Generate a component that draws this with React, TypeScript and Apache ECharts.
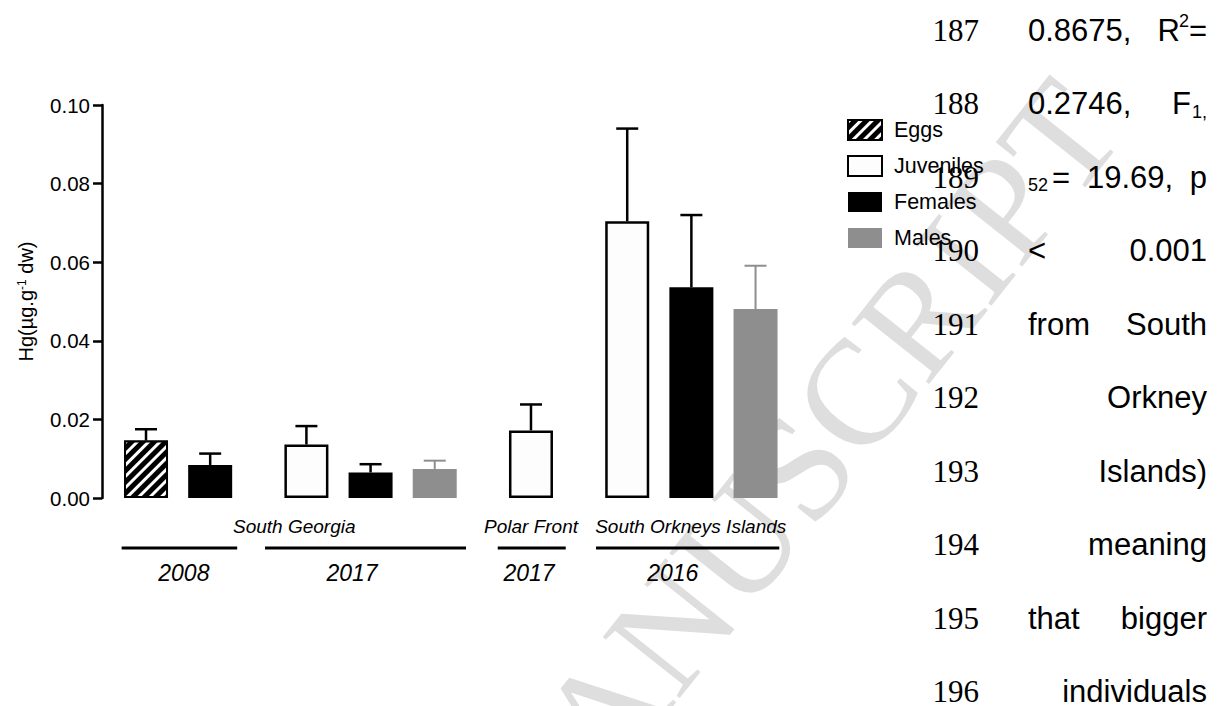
import React, { useEffect, useRef } from "react";
import * as echarts from "echarts";

// ---------- data ----------
const groupNames = ["Eggs", "Juveniles", "Females", "Males"];

const eggsX = [0];
const eggsMean = [0.0146];
const eggsSD = [0.0029];

const juvX = [2.5, 6, 7.5];
const juvMean = [0.0136, 0.0172, 0.0704];
const juvSD = [0.0047, 0.0066, 0.0236];

const femX = [1, 3.5, 8.5];
const femMean = [0.0084, 0.0065, 0.0536];
const femSD = [0.0029, 0.0021, 0.0184];

const maleX = [4.5, 9.5];
const maleMean = [0.0074, 0.0481];
const maleSD = [0.0021, 0.011];

const yTicks = [0, 0.02, 0.04, 0.06, 0.08, 0.1];

const regionLabels = ["South Georgia", "Polar Front", "South Orkneys Islands"];
const regionCenters = [2.31, 6.0, 8.49];

const yearLabels = ["2008", "2017", "2017", "2016"];
const yearStart = [-0.38, 1.855, 5.482, 7.014];
const yearEnd = [1.421, 4.988, 6.542, 9.87];
const yearLabelX = [0.59, 3.21, 5.97, 8.21];

const lineNumbers = ["187", "188", "189", "190", "191", "192", "193", "194", "195", "196"];

const SANS = "'Liberation Sans', Arial, sans-serif";
const SERIF = "'Liberation Serif', 'Times New Roman', serif";

function barSeries(name: string, xs: number[], means: number[], itemStyle: any) {
  return {
    type: "bar",
    name,
    data: xs.map((x, i) => [x, means[i]]),
    barWidth: 44,
    barGap: "-100%",
    itemStyle,
    z: 3,
  };
}

function errSeries(name: string, xs: number[], means: number[], sds: number[], color: string, width: number) {
  return {
    type: "custom",
    name,
    data: xs.map((x, i) => [x, means[i], sds[i]]),
    encode: { x: 0, y: 1 },
    clip: false,
    z: 4,
    renderItem: (params: any, api: any) => {
      const x = api.value(0);
      const m = api.value(1);
      const s = api.value(2);
      const b = api.coord([x, m]);
      const t = api.coord([x, m + s]);
      const st = { stroke: color, lineWidth: width, fill: null };
      return {
        type: "group",
        children: [
          { type: "line", shape: { x1: b[0], y1: b[1], x2: t[0], y2: t[1] }, style: st },
          { type: "line", shape: { x1: t[0] - 11, y1: t[1], x2: t[0] + 11, y2: t[1] }, style: st },
        ],
      };
    },
  };
}

function txt(text: string, x: number, y: number, opts: any = {}) {
  const align = opts.align || "left";
  const size = opts.size || 31;
  const family = opts.family || SANS;
  return {
    type: "text",
    x,
    y,
    z: 10,
    style: {
      text,
      fill: opts.fill || "#000",
      font: `${size}px ${family}`,
      fontSize: size,
      fontFamily: family,
      align,
      textAlign: align,
      verticalAlign: "middle",
      textVerticalAlign: "middle",
    },
  };
}

const lineY = [30, 103.5, 177, 250.5, 324, 397.5, 471, 544.5, 618, 691.5];

export default function App() {
  const ref = useRef<HTMLDivElement>(null);
  useEffect(() => {
    if (!ref.current) return;
    const chart = echarts.init(ref.current, null, { renderer: "svg" });

    const graphics: any[] = [];
    // watermark
    graphics.push({
      type: "text",
      x: 1088,
      y: 102,
      rotation: 0.9,
      z: 0,
      silent: true,
      style: {
        text: "ACCEPTED MANUSCRIPT",
        fill: "#dedede",
        fontSize: 150,
        fontFamily: SERIF,
        font: `150px ${SERIF}`,
        align: "right",
        textAlign: "right",
        verticalAlign: "middle",
        textVerticalAlign: "middle",
      },
    });
    // line numbers
    lineNumbers.forEach((n, i) => {
      graphics.push(txt(n, 979, lineY[i], { align: "right", family: SERIF, size: 31 }));
    });
    // manuscript text
    const L = 1028;
    const R = 1207;
    graphics.push(txt("0.8675,", L, lineY[0]));
    graphics.push(txt("=", R, lineY[0], { align: "right" }));
    graphics.push(txt("2", 1189, lineY[0] - 9, { align: "right", size: 18 }));
    graphics.push(txt("R", 1180, lineY[0], { align: "right" }));
    graphics.push(txt("0.2746,", L, lineY[1]));
    graphics.push(txt("1,", R, lineY[1] + 8, { align: "right", size: 18 }));
    graphics.push(txt("F", 1191, lineY[1], { align: "right" }));
    graphics.push(txt("52", L, lineY[2] + 8, { size: 18 }));
    graphics.push(txt("=", 1052, lineY[2]));
    graphics.push(txt("19.69,", 1087, lineY[2]));
    graphics.push(txt("p", R, lineY[2], { align: "right" }));
    graphics.push(txt("<", L, lineY[3]));
    graphics.push(txt("0.001", R, lineY[3], { align: "right" }));
    graphics.push(txt("from", L, lineY[4]));
    graphics.push(txt("South", R, lineY[4], { align: "right" }));
    graphics.push(txt("Orkney", R, lineY[5], { align: "right" }));
    graphics.push(txt("Islands)", R, lineY[6], { align: "right" }));
    graphics.push(txt("meaning", R, lineY[7], { align: "right" }));
    graphics.push(txt("that", L, lineY[8]));
    graphics.push(txt("bigger", R, lineY[8], { align: "right" }));
    graphics.push(txt("individuals", R, lineY[9], { align: "right" }));

    const option: any = {
      animation: false,
      backgroundColor: "#ffffff",
      textStyle: { fontFamily: SANS },
      grid: { left: 102, right: 420, top: 105, bottom: 208, containLabel: false },
      legend: {
        data: groupNames,
        orient: "vertical",
        left: 842,
        top: 114,
        itemWidth: 34,
        itemHeight: 20,
        itemGap: 14,
        icon: "rect",
        selectedMode: false,
        textStyle: { fontSize: 21.5, color: "#000", fontFamily: SANS, lineHeight: 20, padding: [0, 0, 0, 7] },
      },
      xAxis: {
        type: "value",
        min: -0.686,
        max: 10.193,
        show: false,
      },
      yAxis: {
        type: "value",
        min: yTicks[0],
        max: yTicks[yTicks.length - 1],
        interval: 0.02,
        name: "Hg(µg.g{s|-1} dw)",
        nameLocation: "middle",
        nameGap: 66,
        nameTextStyle: {
          fontSize: 20,
          color: "#000",
          fontFamily: SANS,
          rich: { s: { fontSize: 12, verticalAlign: "top", color: "#000", fontFamily: SANS } },
        },
        axisLine: { show: true, onZero: false, lineStyle: { color: "#000", width: 2.5 } },
        axisTick: { show: true, length: 9, lineStyle: { color: "#000", width: 2.5 } },
        axisLabel: {
          fontSize: 20.5,
          color: "#000",
          margin: 12,
          fontFamily: SANS,
          formatter: (v: number) => v.toFixed(2),
        },
        splitLine: { show: false },
      },
      graphic: graphics,
      series: [
        barSeries(groupNames[0], eggsX, eggsMean, {
          color: "#000",
          borderColor: "#000",
          borderWidth: 2,
          decal: {
            symbol: "rect",
            symbolSize: 1,
            dashArrayX: [1, 0],
            dashArrayY: [3, 5],
            rotation: -Math.PI / 4,
            color: "#ffffff",
            backgroundColor: "#000000",
          },
        }),
        barSeries(groupNames[1], juvX, juvMean, { color: "#fdfdfd", borderColor: "#000", borderWidth: 2.5 }),
        barSeries(groupNames[2], femX, femMean, { color: "#000", borderColor: "#000", borderWidth: 0 }),
        barSeries(groupNames[3], maleX, maleMean, { color: "#8e8e8e", borderWidth: 0 }),
        errSeries("Eggs SD", eggsX, eggsMean, eggsSD, "#000", 2.5),
        errSeries("Juveniles SD", juvX, juvMean, juvSD, "#000", 2.5),
        errSeries("Females SD", femX, femMean, femSD, "#000", 2.5),
        errSeries("Males SD", maleX, maleMean, maleSD, "#8e8e8e", 2),
        {
          type: "custom",
          name: "regions",
          data: regionCenters.map((c) => [c, 0]),
          encode: { x: 0, y: 1 },
          clip: false,
          z: 5,
          renderItem: (params: any, api: any) => {
            const p = api.coord([api.value(0), 0]);
            return {
              type: "text",
              x: p[0],
              y: p[1] + 28,
              style: {
                text: regionLabels[params.dataIndex],
                fill: "#000",
                fontSize: 19,
                fontStyle: "italic",
                fontFamily: SANS,
                align: "center",
                verticalAlign: "middle",
              },
            };
          },
        },
        {
          type: "custom",
          name: "years",
          data: yearStart.map((s, i) => [s, yearEnd[i], yearLabelX[i]]),
          encode: { x: [0, 1, 2] },
          clip: false,
          z: 5,
          renderItem: (params: any, api: any) => {
            const a = api.coord([api.value(0), 0]);
            const b = api.coord([api.value(1), 0]);
            const c = api.coord([api.value(2), 0]);
            return {
              type: "group",
              children: [
                {
                  type: "line",
                  shape: { x1: a[0], y1: a[1] + 50, x2: b[0], y2: b[1] + 50 },
                  style: { stroke: "#000", lineWidth: 3 },
                },
                {
                  type: "text",
                  x: c[0],
                  y: c[1] + 75,
                  style: {
                    text: yearLabels[params.dataIndex],
                    fill: "#000",
                    fontSize: 23,
                    fontStyle: "italic",
                    fontFamily: SANS,
                    align: "center",
                    verticalAlign: "middle",
                  },
                },
              ],
            };
          },
        },
      ],
    };
    chart.setOption(option);
    return () => chart.dispose();
  }, []);
  return (
    <div
      ref={ref}
      style={{ position: "fixed", left: 0, top: 0, width: 1220, height: 706, background: "#fff" }}
    />
  );
}
